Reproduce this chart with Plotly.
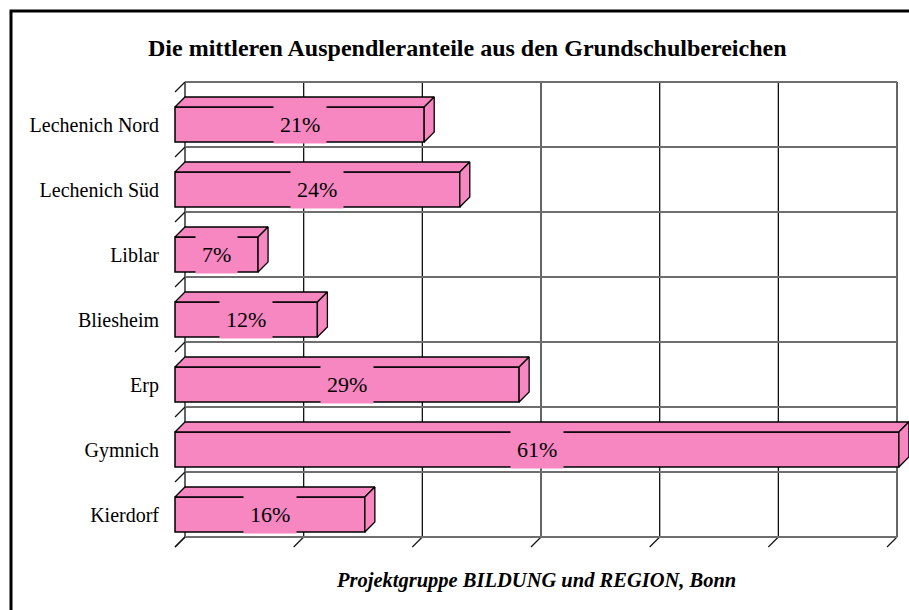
import plotly.graph_objects as go

# ---------------- data ----------------
categories = ["Lechenich Nord", "Lechenich Süd", "Liblar", "Bliesheim", "Erp", "Gymnich", "Kierdorf"]
values = [21, 24, 7, 12, 29, 61, 16]          # percent
grid_values = [0, 10, 20, 30, 40, 50, 60]      # percent gridlines
title_text = "Die mittleren Auspendleranteile aus den Grundschulbereichen"
source_text = "Projektgruppe BILDUNG und REGION, Bonn"

# ---------------- styling / geometry ----------------
W, H = 909, 610
PINK = "#F687C1"
FONT = "Liberation Serif, Times New Roman, serif"
X0_PX = 175            # pixel of 0 % on the front plane
PX_PER_PCT = 11.867
ROW_PX = 65
ROW0_CENTER_PX = 124.5
DEPTH_PX = 10
BAR_HALF_PX = 17.5
X_LEFT_PX = 165

x_range = [(X_LEFT_PX - X0_PX) / PX_PER_PCT, (W - X0_PX) / PX_PER_PCT]
y_range = [(H - ROW0_CENTER_PX) / ROW_PX, (0 - ROW0_CENTER_PX) / ROW_PX]
DX = DEPTH_PX / PX_PER_PCT
DY = DEPTH_PX / ROW_PX
HALF = BAR_HALF_PX / ROW_PX
n = len(categories)
rows = list(range(n))
y_top = -0.5
y_bot = n - 0.5
gmax = grid_values[-1]

fig = go.Figure()

# front faces of the bars
fig.add_trace(go.Bar(
    y=rows, x=values, orientation="h", width=2 * HALF,
    marker=dict(color=PINK, line=dict(color="black", width=1.5)),
    hoverinfo="skip",
))

# top and side faces (3D depth)
for i, v in zip(rows, values):
    top_x = [0, v, v + DX, DX, 0]
    top_y = [i - HALF, i - HALF, i - HALF - DY, i - HALF - DY, i - HALF]
    side_x = [v, v + DX, v + DX, v, v]
    side_y = [i - HALF, i - HALF - DY, i + HALF - DY, i + HALF, i - HALF]
    for xs, ys in ((top_x, top_y), (side_x, side_y)):
        fig.add_trace(go.Scatter(
            x=xs, y=ys, mode="lines", fill="toself", fillcolor=PINK,
            line=dict(color="black", width=1.3), hoverinfo="skip",
        ))

shapes = []
# back wall vertical gridlines
for g in grid_values:
    shapes.append(dict(type="line", xref="x", yref="y", layer="below",
                       x0=g + DX, x1=g + DX, y0=y_top - DY, y1=y_bot - DY,
                       line=dict(color="#111111", width=1.3)))
    # floor depth ticks at bottom
    shapes.append(dict(type="line", xref="x", yref="y", layer="below",
                       x0=g, x1=g + DX, y0=y_bot, y1=y_bot - DY,
                       line=dict(color="#111111", width=1.2)))
# back wall horizontal row lines and left depth ticks
for k in range(n + 1):
    b = y_top + k
    shapes.append(dict(type="line", xref="x", yref="y", layer="below",
                       x0=DX, x1=gmax + DX, y0=b - DY, y1=b - DY,
                       line=dict(color="#6e6e6e", width=2)))
    shapes.append(dict(type="line", xref="x", yref="y", layer="below",
                       x0=0, x1=DX, y0=b, y1=b - DY,
                       line=dict(color="#111111", width=1.2)))
# outer frame
shapes.append(dict(type="rect", xref="paper", yref="paper", layer="above",
                   x0=11 / W, x1=1.2, y0=-0.2, y1=1 - 11 / H,
                   line=dict(color="black", width=3)))

annotations = []
for i, v in zip(rows, values):
    annotations.append(dict(
        x=v / 2, y=i, xref="x", yref="y", text=f"{v}%", showarrow=False,
        bgcolor=PINK, borderpad=6, font=dict(family=FONT, size=22, color="black"),
    ))
annotations.append(dict(
    x=467 / W, y=1 - 48 / H, xref="paper", yref="paper", text=f"<b>{title_text}</b>",
    showarrow=False, font=dict(family=FONT, size=24, color="black"),
    xanchor="center", yanchor="middle",
))
annotations.append(dict(
    x=536 / W, y=1 - 580 / H, xref="paper", yref="paper", text=f"<b><i>{source_text}</i></b>",
    showarrow=False, font=dict(family=FONT, size=20.5, color="black"),
    xanchor="center", yanchor="middle",
))

fig.update_layout(
    width=W, height=H, margin=dict(l=0, r=0, t=0, b=0),
    paper_bgcolor="white", plot_bgcolor="white",
    showlegend=False, shapes=shapes, annotations=annotations,
    xaxis=dict(domain=[X_LEFT_PX / W, 1], range=x_range, showgrid=False,
               zeroline=False, showline=False, showticklabels=False, ticks=""),
    yaxis=dict(domain=[0, 1], range=y_range, showgrid=False, zeroline=False,
               showline=False, tickmode="array", tickvals=rows, ticktext=categories,
               ticks="", ticklabelstandoff=5,
               tickfont=dict(family=FONT, size=20, color="black")),
)

fig.write_html(
    "out.html",
    config={"displayModeBar": False},
    post_script="document.body.style.margin='0px';document.body.style.overflow='hidden';",
)
